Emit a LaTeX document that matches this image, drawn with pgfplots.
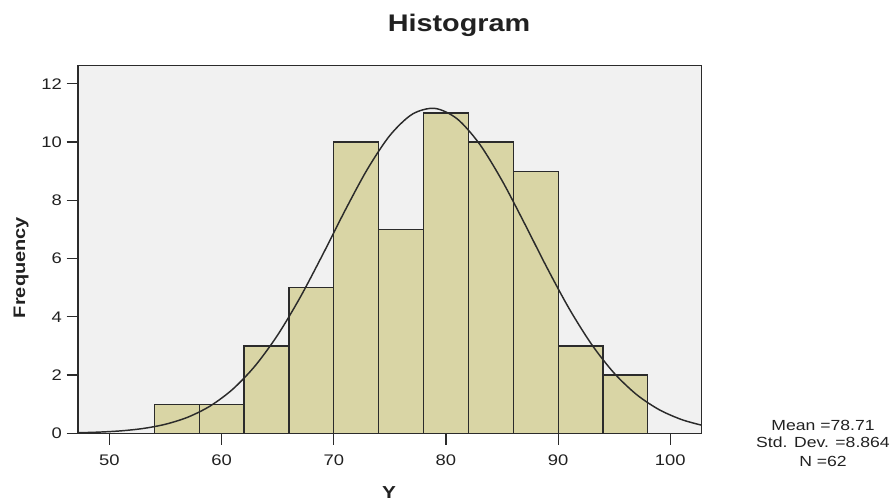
\documentclass[border=0pt]{standalone}
\usepackage{fontspec}
\setmainfont{Liberation Sans}[FakeStretch=1.2]
\usepackage{pgfplots}
\pgfplotsset{compat=1.18}

\definecolor{plotbg}{HTML}{F1F1F1}
\definecolor{barfill}{HTML}{D9D5A5}
\definecolor{edge}{HTML}{2B2B2B}

\begin{document}
\begin{tikzpicture}
\begin{axis}[
    scale only axis,
    width=467.8pt, height=275.7pt,
    xmin=47.2, xmax=102.8,
    ymin=0, ymax=12.62,
    axis background/.style={fill=plotbg},
    axis line style={edge, line width=0.9pt},
    xtick={50,60,70,80,90,100},
    ytick={0,2,4,6,8,10,12},
    tick align=outside,
    xtick pos=bottom, ytick pos=left,
    major tick length=8.5pt,
    tick style={edge, line width=0.9pt},
    ticklabel style={font=\fontsize{11.5}{13}\selectfont, text=black!87},
    xticklabel style={yshift=-4pt},
    /pgf/number format/assume math mode=true,
]
% frequencies, bins of width 4 from 54 to 98 (centres)
\addplot[ybar, bar width=4, bar shift=0pt, fill=barfill, draw=edge, line width=0.9pt]
coordinates {(56,1)(60,1)(64,3)(68,5)(72,10)(76,7)(80,11)(84,10)(88,9)(92,3)(96,2)};
% normal curve, mean 78.71, sd 8.864, N 62
\addplot[smooth, no markers, edge, line width=1.1pt] coordinates {
(47.2,0.020)(49,0.041)(51,0.084)(53,0.166)(55,0.312)(57,0.556)(59,0.942)
(61,1.517)(63,2.322)(65,3.376)(67,4.665)(69,6.126)(71,7.647)(73,9.070)
(75,10.226)(77,10.957)(79,11.156)(81,10.796)(83,9.929)
(85,8.677)(87,7.208)(89,5.691)(91,4.269)(93,3.044)(95,2.063)(97,1.328)
(99,0.813)(101,0.473)(102.8,0.278)};
\end{axis}
\node[anchor=base, font=\fontsize{18}{20}\selectfont\bfseries, text=black!87] at (285.75pt,301.7pt) {Histogram};
\node[anchor=base, rotate=90, font=\fontsize{12.5}{14}\selectfont\bfseries, text=black!87] at (-39.75pt,124.4pt) {Frequency};
\node[anchor=north, inner sep=0pt, font=\fontsize{13}{15}\selectfont\bfseries, text=black!87] at (233.25pt,-39.5pt) {Y};
\node[anchor=base, font=\fontsize{11}{13}\selectfont, text=black!87] at (558.75pt,2.5pt) {Mean =78.71};
\node[anchor=base, font=\fontsize{11}{13}\selectfont, text=black!87] at (558.75pt,-10.8pt) {Std. Dev. =8.864};
\node[anchor=base, font=\fontsize{11}{13}\selectfont, text=black!87] at (558.75pt,-24.5pt) {N =62};
\pgfresetboundingbox
\useasboundingbox (-58.5pt,-52.3pt) rectangle (612.75pt,325pt);
\end{tikzpicture}
\end{document}
